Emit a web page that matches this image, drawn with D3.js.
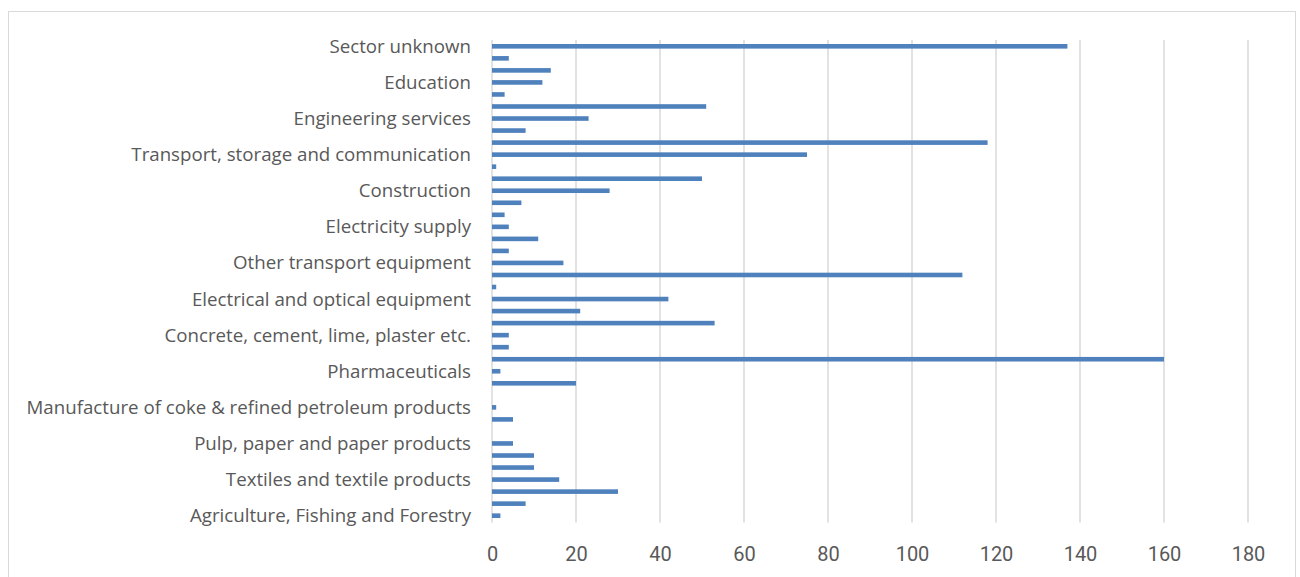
<!DOCTYPE html>
<html lang="en">
<head>
<meta charset="utf-8">
<title>Sectors</title>
<style type="text/css">
  body { margin: 0; background: #fff; }
  .domain { display: none; }
  text { font-family: Roboto, "Open Sans", sans-serif; fill: #595959; }
</style>
</head>
<body>
<script src="https://d3js.org/d3.v7.min.js"></script>
<script>

    // categories listed bottom to top, as in the source sheet
    var sectors = [
        "Agriculture, Fishing and Forestry",
        "Mining and quarrying",
        "Food, beverages and tobacco",
        "Textiles and textile products",
        "Leather and leather products",
        "Wood and wood products",
        "Pulp, paper and paper products",
        "Recorded media",
        "Publishing and printing",
        "Manufacture of coke & refined petroleum products",
        "Nuclear fuel",
        "Chemicals",
        "Pharmaceuticals",
        "Rubber and plastic products",
        "Other non-metallic mineral products",
        "Concrete, cement, lime, plaster etc.",
        "Fabricated metal products",
        "Machinery and equipment",
        "Electrical and optical equipment",
        "Motor vehicles",
        "Aerospace",
        "Other transport equipment",
        "Furniture and other manufacturing",
        "Recycling",
        "Electricity supply",
        "Gas supply",
        "Water supply",
        "Construction",
        "Wholesale and retail trade",
        "Hotels and restaurants",
        "Transport, storage and communication",
        "Financial intermediation",
        "Real estate",
        "Engineering services",
        "Computer and related activities",
        "Research and development",
        "Education",
        "Health and social work",
        "Other services",
        "Sector unknown"
    ];
    var counts = [2,8,30,16,10,10,5,0,5,1,0,20,2,160,4,4,53,21,42,1,112,17,4,11,4,3,7,28,50,1,75,118,8,23,51,3,12,14,4,137];
    var xTicks = [0,20,40,60,80,100,120,140,160,180];

    var W = 1300, H = 577;
    var margin = {top: 40.3, left: 492, right: 52, bottom: 55.3};

    var svg = d3.select("body").append("svg")
        .attr("width", W)
        .attr("height", H);

    // chart frame
    svg.append("rect")
        .attr("x", 8.5).attr("y", 11.5)
        .attr("width", 1287).attr("height", 620)
        .attr("fill", "none")
        .attr("stroke", "#d9d9d9");

    var xScale = d3.scaleLinear()
        .domain([0, 180])
        .range([margin.left, W - margin.right]);

    var yScale = d3.scaleBand()
        .domain(sectors.slice().reverse())
        .range([margin.top, H - margin.bottom]);

    // vertical grid
    svg.append("g").selectAll("line")
        .data(xTicks)
        .enter()
        .append("line")
        .attr("x1", function(d){ return xScale(d); })
        .attr("x2", function(d){ return xScale(d); })
        .attr("y1", 40)
        .attr("y2", 522.5)
        .attr("stroke", "#d9d9d9")
        .attr("stroke-width", 1.5);

    var xAxis = d3.axisBottom(xScale)
        .tickValues(xTicks)
        .tickSize(0)
        .tickPadding(25);
    var xAxisGroup = svg.append("g")
        .attr("transform", "translate(0,522)")
        .call(xAxis);
    xAxisGroup.selectAll("text").style("font-size", "20px").attr("fill", "#595959");

    var yAxis = d3.axisLeft(yScale)
        .tickSize(0)
        .tickPadding(21)
        .tickFormat(function(d){
            return sectors.indexOf(d) % 3 === 0 ? d : "";
        });
    var yAxisGroup = svg.append("g")
        .attr("transform", "translate(" + margin.left + ",0.5)")
        .call(yAxis);
    yAxisGroup.selectAll("text")
        .style("font-family", "'Open Sans', sans-serif")
        .style("font-size", "18.7px")
        .attr("fill", "#595959");

    var barH = 4.6;
    svg.append("g").selectAll("rect")
        .data(counts)
        .enter()
        .append("rect")
        .attr("x", xScale(0))
        .attr("y", function(d,i){ return yScale(sectors[i]) + yScale.bandwidth()/2 - barH/2; })
        .attr("width", function(d){ return xScale(d) - xScale(0); })
        .attr("height", barH)
        .attr("fill", "#4f81bd");

</script>
</body>
</html>
